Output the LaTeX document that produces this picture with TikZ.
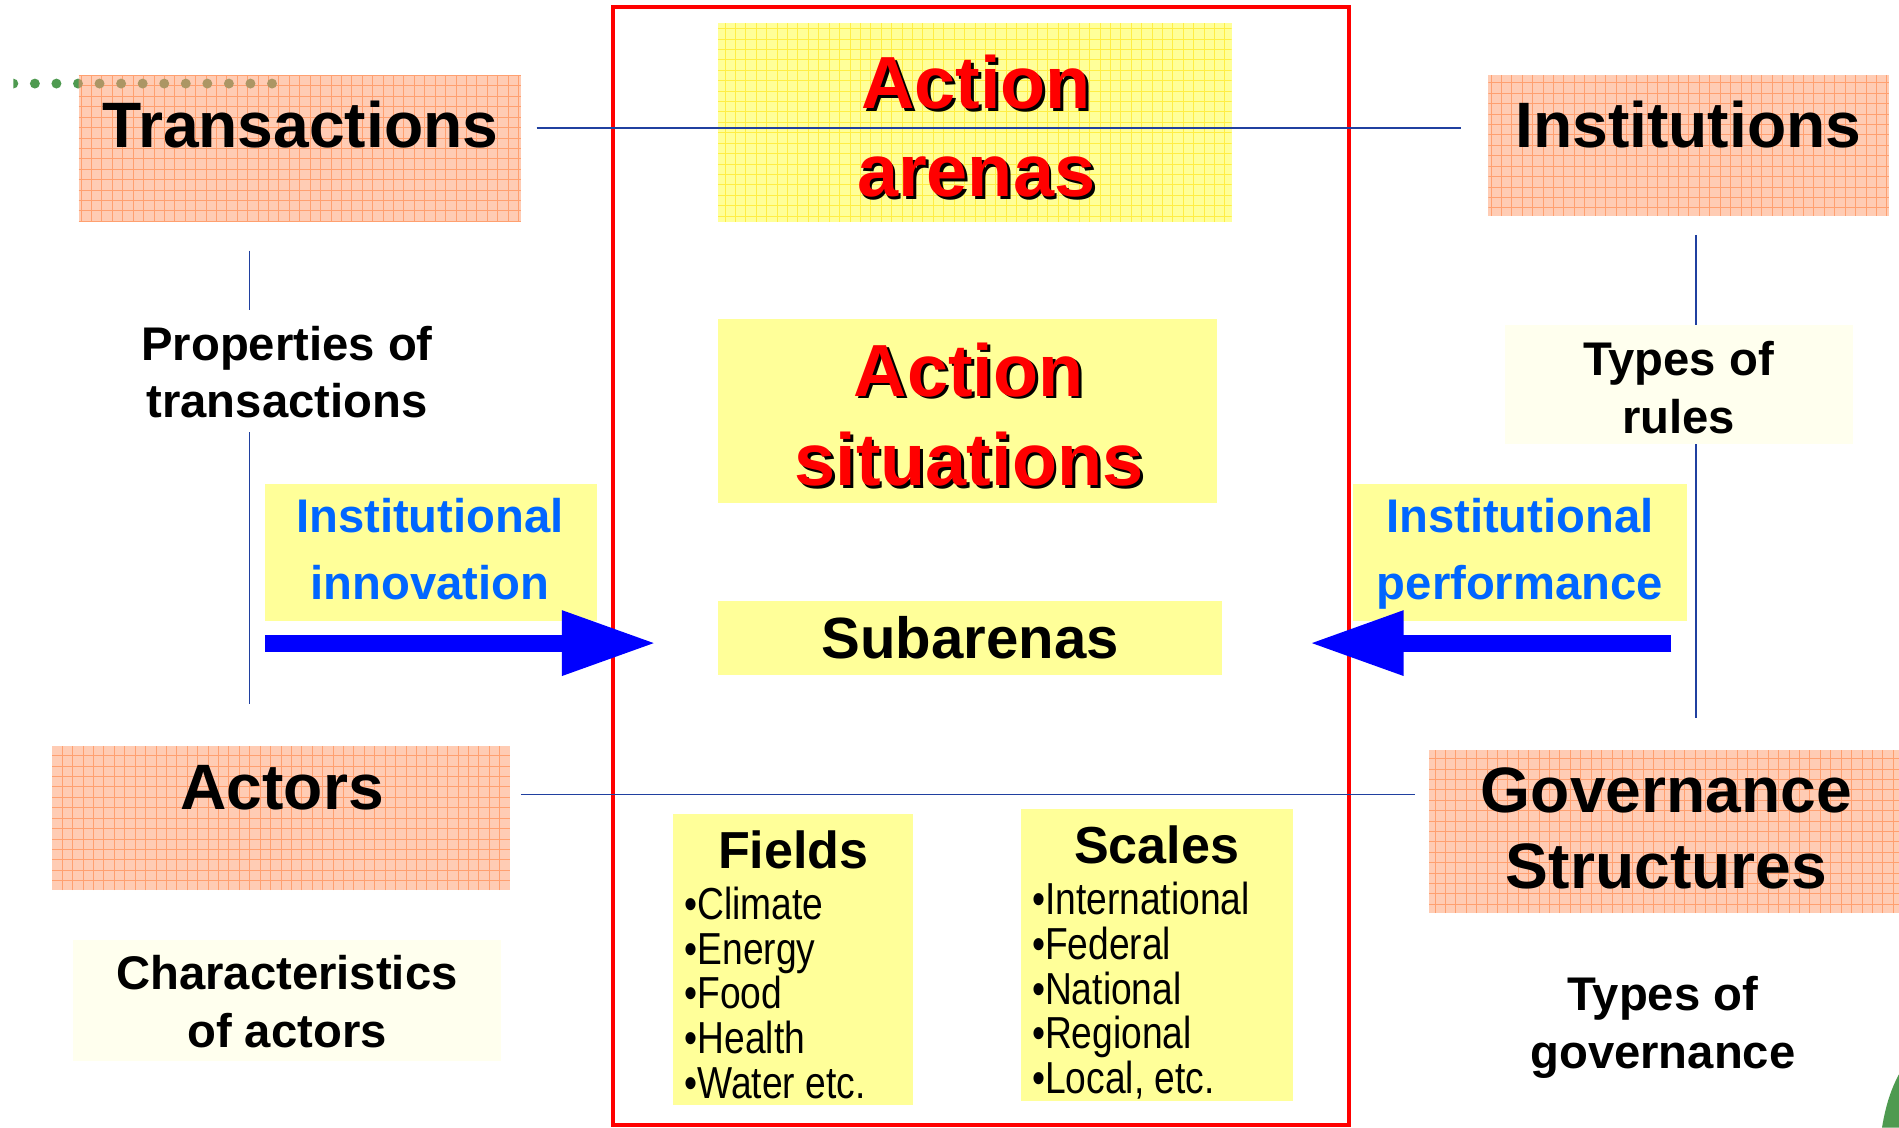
\documentclass[tikz,border=0pt]{standalone}
\usepackage{fontspec}
\setmainfont{Liberation Sans}
\newfontfamily\narrowfont[FakeStretch=0.83]{Liberation Sans}
\usetikzlibrary{arrows.meta}
\definecolor{salmon}{RGB}{255,204,180}
\definecolor{salmongrid}{RGB}{255,160,112}
\definecolor{lyellow}{RGB}{255,255,153}
\definecolor{ygrid}{RGB}{255,238,70}
\definecolor{cream}{RGB}{255,255,238}
\definecolor{lineblue}{RGB}{32,64,160}
\definecolor{txtblue}{RGB}{0,102,255}
\definecolor{arrowblue}{RGB}{0,0,255}
\definecolor{dotgreen}{RGB}{78,154,80}
\definecolor{dotolive}{RGB}{172,150,100}
\definecolor{boxred}{RGB}{255,0,0}
\tikzset{
  box/.style={rectangle, inner sep=0pt, draw=none},
  salmonbox/.style={box, fill=salmon, path picture={\draw[salmongrid, line width=0.7pt] (path picture bounding box.south west) grid[step=8.6pt] (path picture bounding box.north east);}},
  ygridbox/.style={box, fill=lyellow, path picture={\draw[ygrid, line width=0.7pt] (path picture bounding box.south west) grid[step=8.6pt] (path picture bounding box.north east);}},
  ybox/.style={box, fill=lyellow},
  creambox/.style={box, fill=cream},
  txt/.style={inner sep=0pt, anchor=base},
  bigtxt/.style={txt, font=\fontsize{53}{53}\selectfont\bfseries},
  midtxt/.style={txt, font=\fontsize{39}{39}\selectfont\bfseries},
  bluetxt/.style={midtxt, text=txtblue},
  redtitle/.style={txt, text=boxred, font=\fontsize{61}{61}\selectfont\bfseries},
  redshadow/.style={txt, text=black, font=\fontsize{61}{61}\selectfont\bfseries},
  subtxt/.style={txt, font=\fontsize{48}{48}\selectfont\bfseries},
  listhead/.style={txt, font=\fontsize{43}{43}\selectfont\bfseries},
  bullettxt/.style={inner sep=0pt, anchor=base west, font=\fontsize{37}{37}\narrowfont},
  conn/.style={draw=lineblue, line width=1.6pt},
  bigarrow/.style={draw=arrowblue, line width=14pt, -{Triangle[length=78pt,width=50pt]}}
}
\newcommand\shtxt[4]{%
  \node[redshadow] (#1s) at ({#2+2.4},{#3+2.4}) {#4};
  \node[redtitle] (#1) at (#2,#3) {#4};}
\begin{document}
\begin{tikzpicture}[x=1pt,y=-1pt]
\useasboundingbox (0,0) rectangle (1568,931);
\fill[white] (0,0) rectangle (1568,931);
% dots
\begin{scope}
\clip (11,0) rectangle (300,120);
\foreach \i in {0,...,12} \fill[dotgreen] ({11+17.8*\i},69) circle (4.1);
\end{scope}
% corner shape
\fill[dotgreen] (1554,931) .. controls (1557,912) and (1562,898) .. (1568,887) -- (1568,931) -- cycle;
% vertical lines
\coordinate (lv1a) at (206,207); \coordinate (lv1b) at (206,256);
\coordinate (lv2a) at (206,357); \coordinate (lv2b) at (206,581);
\coordinate (rva) at (1400,194); \coordinate (rvb) at (1400,593);
\draw[conn] (lv1a) -- (lv1b);
\draw[conn] (lv2a) -- (lv2b);
\draw[conn] (rva) -- (rvb);
% boxes
\node[salmonbox, minimum width=365, minimum height=121] (trbox) at (247.5,122.5) {};
\begin{scope}
\clip (65,62) rectangle (430,183);
\foreach \i in {0,...,12} \fill[dotolive] ({11+17.8*\i},69) circle (4.1);
\end{scope}
\node[salmonbox, minimum width=331, minimum height=116] (inbox) at (1394.5,120) {};
\node[salmonbox, minimum width=378, minimum height=119] (acbox) at (232,675.5) {};
\node[salmonbox, minimum width=388, minimum height=135] (gobox) at (1374,686.5) {};
\node[ygridbox, minimum width=424, minimum height=164] (aabox) at (805,101) {};
\node[ybox, minimum width=412, minimum height=152] (asbox) at (799,339) {};
\node[ybox, minimum width=416, minimum height=61] (sabox) at (801,526.5) {};
\node[ybox, minimum width=274, minimum height=113] (iibox) at (356,456.5) {};
\node[ybox, minimum width=276, minimum height=113] (ipbox) at (1255,456.5) {};
\node[ybox, minimum width=198, minimum height=240] (fibox) at (655,792) {};
\node[ybox, minimum width=225, minimum height=241] (scbox) at (955.5,788.5) {};
\node[creambox, minimum width=287, minimum height=99] (trbox2) at (1386.5,317.5) {};
\node[creambox, minimum width=354, minimum height=100] (chbox) at (237,826) {};
% red frame
\draw[boxred, line width=3.2pt] (506,6) rectangle (1114,929);
% horizontal lines
\coordinate (tla) at (443,106); \coordinate (tlb) at (1206,106);
\coordinate (bla) at (430,656); \coordinate (blb) at (1168,656);
\draw[conn] (tla) -- (tlb);
\draw[conn] (bla) -- (blb);
% arrows
\coordinate (laa) at (219,531); \coordinate (lab) at (542,531);
\coordinate (raa) at (1380,531); \coordinate (rab) at (1081,531);
\draw[bigarrow] (laa) -- (lab);
\draw[bigarrow] (raa) -- (rab);
% texts
\node[bigtxt] (trtxt) at (248,122) {Transactions};
\node[bigtxt] (intxt) at (1394,122) {Institutions};
\node[bigtxt] (actxt) at (233,668) {Actors};
\node[bigtxt] (go1) at (1376,671) {Governance};
\node[bigtxt] (go2) at (1376,734) {Structures};
\shtxt{aa1}{806}{90}{Action}
\shtxt{aa2}{806}{162}{arenas}
\shtxt{as1}{800}{327}{Action}
\shtxt{as2}{800}{401}{situations}
\node[subtxt] (satxt) at (801,544) {Subarenas};
\node[midtxt] (pr1) at (237,298) {Properties of};
\node[midtxt] (pr2) at (237,345) {transactions};
\node[midtxt] (ty1) at (1386,310) {Types of};
\node[midtxt] (ty2) at (1386,358) {rules};
\node[bluetxt] (ii1) at (355,440) {Institutional};
\node[bluetxt] (ii2) at (355,495) {innovation};
\node[bluetxt] (ip1) at (1255,440) {Institutional};
\node[bluetxt] (ip2) at (1255,495) {performance};
\node[midtxt] (ch1) at (237,817) {Characteristics};
\node[midtxt] (ch2) at (237,865) {of actors};
\node[midtxt] (tg1) at (1373,834) {Types of};
\node[midtxt] (tg2) at (1373,882) {governance};
\node[listhead] (fitxt) at (655,717) {Fields};
\node[listhead] (sctxt) at (955,713) {Scales};
\node[bullettxt] (f1) at (565,759) {•Climate};
\node[bullettxt] (f2) at (565,796) {•Energy};
\node[bullettxt] (f3) at (565,833) {•Food};
\node[bullettxt] (f4) at (565,870) {•Health};
\node[bullettxt] (f5) at (565,907) {•Water etc.};
\node[bullettxt] (s1) at (852,755) {•International};
\node[bullettxt] (s2) at (852,792) {•Federal};
\node[bullettxt] (s3) at (852,829) {•National};
\node[bullettxt] (s4) at (852,866) {•Regional};
\node[bullettxt] (s5) at (852,903) {•Local, etc.};
\end{tikzpicture}
\end{document}
